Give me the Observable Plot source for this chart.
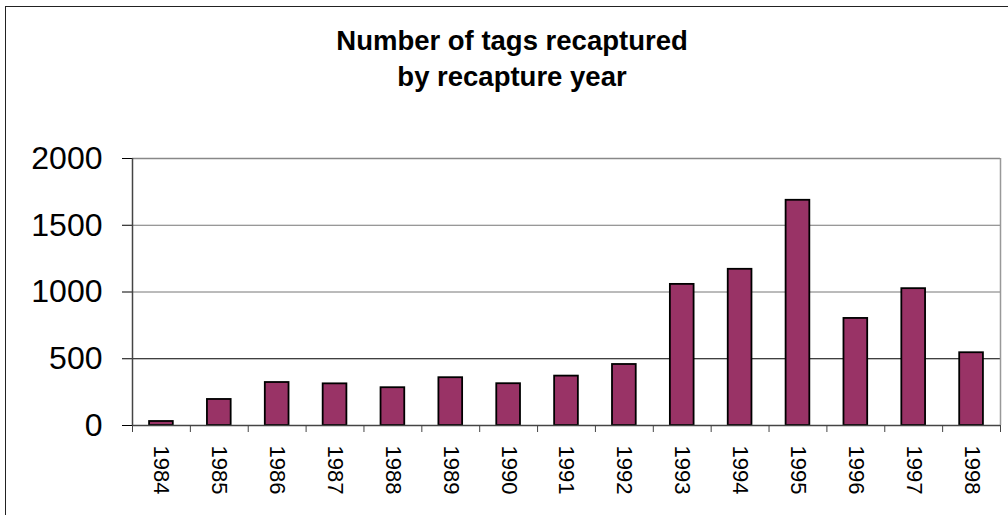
<!DOCTYPE html>
<html>
<head>
<meta charset="utf-8">
<script src="https://cdn.jsdelivr.net/npm/d3@7"></script>
<script src="https://cdn.jsdelivr.net/npm/@observablehq/plot@0.6"></script>
<style>
  html, body { margin: 0; padding: 0; background: #fff; }
  #wrap { position: relative; width: 1008px; height: 515px; overflow: hidden; background: #fff;
          font-family: "Liberation Sans", Arial, sans-serif; }
  #border { position: absolute; left: 5px; top: 6px; width: 1100px; height: 600px;
            border-top: 1.5px solid #222; border-left: 1.5px solid #222; }
  #title { position: absolute; left: 0; top: 23px; width: 1024px; text-align: center;
           font-weight: bold; font-size: 27.5px; line-height: 36px; color: #000; }
  #chart { position: absolute; left: 0; top: 0; }
</style>
</head>
<body>
<div id="wrap">
  <div id="border"></div>
  <div id="title">Number of tags recaptured<br>by recapture year</div>
  <div id="chart"></div>
</div>
<script>
const years = ["1984","1985","1986","1987","1988","1989","1990","1991","1992","1993","1994","1995","1996","1997","1998"];
const counts = [30,195,322,312,283,358,313,370,457,1057,1170,1687,802,1025,545];
const yTicks = [0,500,1000,1500,2000];

const W = 1008, H = 515, mL = 132, mR = 8, mT = 158, mB = 90;
const step = (W - mL - mR) / years.length;
const first = [years[0]];
const last = [years[years.length - 1]];

const chart = Plot.plot({
  width: W, height: H,
  marginLeft: mL, marginRight: mR, marginTop: mT, marginBottom: mB,
  style: { background: "transparent", fontFamily: "'Liberation Sans', Arial, sans-serif", fontSize: "32px", color: "#000" },
  x: { type: "band", domain: years, paddingInner: 0.59, paddingOuter: 0.295, round: false, axis: null },
  y: { domain: [0, 2000], ticks: yTicks, tickSize: 10, tickPadding: 20, tickFormat: d3.format("d"), label: null },
  marks: [
    Plot.ruleY([1000, 1500], { stroke: "#777" }),
    Plot.ruleY([500], { stroke: "#000" }),
    Plot.ruleY([2000], { stroke: "#888", strokeWidth: 1.5 }),
    Plot.ruleX(last, { x: d => d, dx: step / 2, y1: 0, y2: 2000, stroke: "#999", strokeWidth: 1.5 }),
    Plot.barY(counts, { x: (d, i) => years[i], y: d => d, fill: "#993366", stroke: "#000", strokeWidth: 1.8 }),
    Plot.ruleY([0], { stroke: "#444", strokeWidth: 1.5 }),
    Plot.ruleX(first, { x: d => d, dx: -step / 2, y1: 0, y2: 2000, stroke: "#444", strokeWidth: 1.5 }),
    Plot.ruleX(years, { x: d => d, dx: -step / 2, y1: 0, y2: 0, insetBottom: -7, stroke: "#444" }),
    Plot.ruleX(last, { x: d => d, dx: step / 2, y1: 0, y2: 0, insetBottom: -7, stroke: "#444" }),
    Plot.text(years, { x: d => d, y: 0, text: d => d, rotate: 90, textAnchor: "start", dy: 20, fontSize: 22, fill: "#000" })
  ]
});
document.getElementById("chart").appendChild(chart);
</script>
</body>
</html>
